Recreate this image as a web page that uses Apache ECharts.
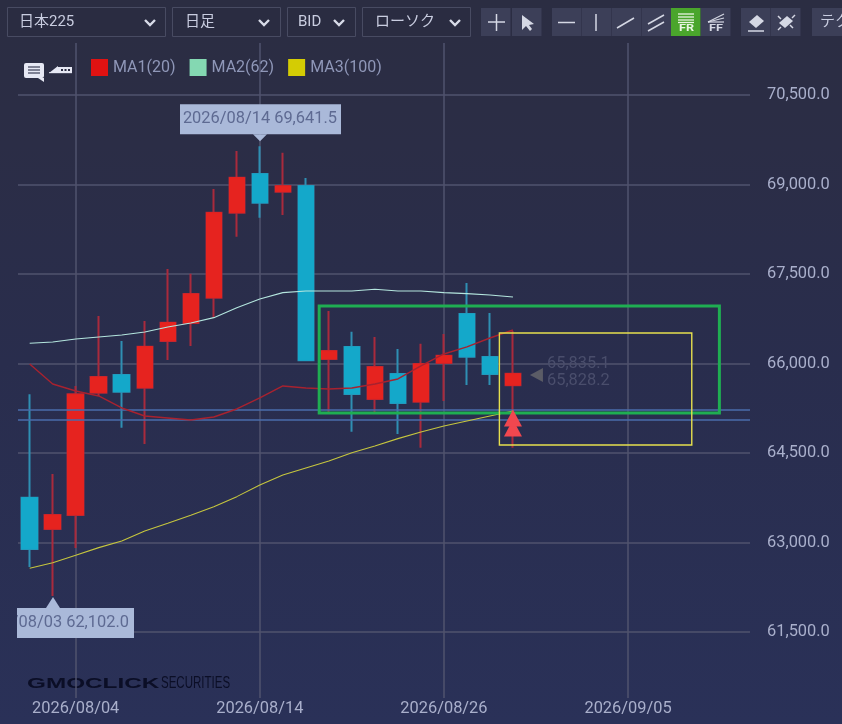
<!DOCTYPE html>
<html>
<head>
<meta charset="utf-8">
<script src="https://cdn.jsdelivr.net/npm/echarts@6/dist/echarts.min.js"></script>
<style>
html,body{margin:0;padding:0;width:842px;height:724px;overflow:hidden;
background:linear-gradient(180deg,#2b2d42 0%,#2b2d46 20%,#292d4d 50%,#2a3158 100%);}
#c{width:842px;height:724px;}
</style>
</head>
<body>
<div id="c"></div>
<script>
// ---- data ----
const dates = ['2026/07/31','2026/08/03','2026/08/04','2026/08/05','2026/08/06','2026/08/07','2026/08/10','2026/08/11','2026/08/12','2026/08/13','2026/08/14','2026/08/17','2026/08/18','2026/08/19','2026/08/20','2026/08/21','2026/08/24','2026/08/25','2026/08/26','2026/08/27','2026/08/28','2026/08/31','2026/09/01','2026/09/02','2026/09/03','2026/09/04','2026/09/05'];
const opens  = [63751,63226,63461,65511,65807,65594,66377,66679,67103,68527,69176,68879,68975,66075,66277,65405,65824,65360,66008,66830,66109,65635];
const closes = [62891,63461,65484,65774,65527,66282,66684,67165,68527,69114,68695,68975,66055,66210,65489,65941,65338,65992,66131,66114,65824,65828];
const lows   = [62589,62102,62908,65455,64924,64651,66059,66293,66768,68125,68444,68489,66055,65175,64857,65175,64818,64589,65372,65640,65640,64589];
const highs  = [65484,64148,65623,66796,66377,66712,67584,67505,68925,69562,69641.5,69533,69109,66880,66533,66444,66243,66332,66494,67349,66846,66545];
const ma1 = [65992,65656,65539,65455,65254,65120,65087,65053,65103,65237,65422,65623,65589,65573,65589,65656,65740,65958,66159,66277,66427,66561];
const ma2 = [66339,66360,66411,66444,66478,66528,66612,66679,66768,66935,67081,67187,67215,67215,67215,67244,67215,67215,67187,67170,67148,67115];
const ma3 = [62568,62661,62785,62913,63025,63193,63322,63456,63600,63768,63964,64131,64249,64366,64505,64617,64740,64852,64953,65036,65120,65204];
const priceTicks = [61500,63000,64500,66000,67500,69000,70500];
const dateTickIdx = [2,10,18,26];
const levelLines = [65220,65052];
const maNames = ['MA1(20)','MA2(62)','MA3(100)'];
const calloutHigh = {idx:10, price:69641.5, text:'2026/08/14 69,641.5'};
const calloutLow  = {idx:1,  price:62102,   text:'/08/03 62,102.0'};
const currentPrices = ['65,835.1','65,828.2'];
const currentAt = 65807;
const signalArrows = [64918,65087];
const zoneGreen  = [12.58,66963,29.97,65170];
const zoneYellow = [20.41,66510,28.77,64633];

const xMin=-0.508, xMax=31.3;
const yMin=60393, yMax=71371;

// ---- candle rows ----
const idx = opens.map((_,i)=>i);
const wickData = idx.map(i=>[i,opens[i],closes[i],lows[i],highs[i]]);
const bodyData = idx.map(i=>[i,opens[i],closes[i],Math.min(opens[i],closes[i]),Math.max(opens[i],closes[i])]);
const xy = a => a.map((v,i)=>[i,v]);

// ---- toolbar chrome ----
const FONT='"Roboto","Noto Sans CJK JP",sans-serif';
const g=[];
function box(x,y,w,h,fill,stroke){g.push({type:'rect',shape:{x,y,width:w,height:h},style:{fill:fill||'transparent',stroke:stroke||null,lineWidth:1}});}
function seg(pts,stroke,lw){g.push({type:'polyline',shape:{points:pts},style:{stroke,lineWidth:lw||1.5,fill:null}});}
function txt(t,x,y,fill,font,extra){g.push(Object.assign({type:'text',x,y,style:{text:t,fill,font:font||('15px '+FONT),textVerticalAlign:'middle'}},extra||{}));}
[[7.5,7.5,158,29,'日本225',19,150],[172.5,7.5,108,29,'日足',185,264],[287.5,7.5,68,29,'BID',298,339],[362.5,7.5,108,29,'ローソク',375,455]].forEach(s=>{
  box(s[0],s[1],s[2],s[3],'#2a2c41','#484b62');
  txt(s[4],s[5],22,'#c9cde0');
  seg([[s[6]-5,20],[s[6],25],[s[6]+5,20]],'#d8dbe8',2.4);
});
const BTN='#3c3f58', ICO='#d5d8e4';
[481,512,552,582,612,642,671,701,741,771,812].forEach((x,i)=>box(x,8,i===10?30:29.5,28,i===6?'#4aa52c':BTN));
seg([[488,22],[505,22]],ICO); seg([[496.5,14],[496.5,31]],ICO);
g.push({type:'polygon',shape:{points:[[522,15],[522,30],[526,26],[530,31],[532,29],[529,25],[534,24]]},style:{fill:ICO}});
seg([[558,22.5],[575,22.5]],ICO);
seg([[596,14],[596,31]],ICO);
seg([[617,28],[634,18]],ICO);
seg([[648,24],[664,15]],ICO); seg([[648,31],[664,22]],ICO);
[14,17,20,22.5].forEach(y=>seg([[678,y],[694,y]],'#e8f5e2',1.3));
txt('FR',679,29,'#e8f5e2','bold 9px '+FONT,{scaleX:1.4,scaleY:1});
seg([[708,22],[724,14]],ICO,1.2); seg([[708,22],[724,18]],ICO,1.2); seg([[708,22],[724,22]],ICO,1.2);
txt('FF',709,29,ICO,'bold 9px '+FONT,{scaleX:1.4,scaleY:1});
g.push({type:'polygon',shape:{points:[[749,22],[757,15],[764,21],[756,28]]},style:{fill:ICO}});
seg([[748,31],[764,31]],ICO);
g.push({type:'polygon',shape:{points:[[779,23],[787,16],[793,21],[785,28]]},style:{fill:ICO}});
seg([[778,16],[781,19]],ICO); seg([[793,28],[790,25]],ICO); seg([[778,30],[781,27]],ICO); seg([[795,15],[792,18]],ICO);
txt('テク',820,22,'#c9cde0');
// comment / marker icons by the legend
g.push({type:'rect',shape:{x:24,y:63,width:20,height:15,r:2},style:{fill:'#e6e8f4'}});
g.push({type:'polygon',shape:{points:[[38,78],[44,78],[44,82]]},style:{fill:'#e6e8f4'}});
[67,70,73].forEach(y=>seg([[28,y],[40,y]],'#3a3d55',1.2));
g.push({type:'polygon',shape:{points:[[49,73],[58,66],[58,73]]},style:{fill:'#e6e8f4'}});
box(58,67,14,6,'#e6e8f4');
seg([[49,72.7],[72,72.7]],'#e6e8f4',1);
[61,64.5,68].forEach(x=>box(x,69,2,2,'#2b2d42'));
// watermark
txt('GMOCLICK',27,684,'#0b0e26','bold 15px "Liberation Sans"',{scaleX:1.62,scaleY:1});
txt('SECURITIES',161,684,'#0b0e26','16px "Liberation Sans"',{scaleX:0.72,scaleY:1});

// ---- custom renderers, all anchored through api.coord ----
function renderZone(params,api){
  const a=api.coord([api.value(0),api.value(1)]), b=api.coord([api.value(2),api.value(3)]);
  const yellow=params.dataIndex===1;
  return {type:'rect',shape:{x:a[0],y:a[1],width:b[0]-a[0],height:b[1]-a[1]},
    style:{fill:'transparent',stroke:yellow?'#e6df4e':'#1fae52',lineWidth:yellow?1.4:3}};
}
function renderCallout(params,api){
  const p=api.coord([api.value(0),api.value(1)]);
  const up=params.dataIndex===0;
  const x=Math.round(p[0]);
  const tipY=up?p[1]-5:p[1]+1;
  const bx=up?x-80:x-36, bw=up?161:117, by=up?tipY-37:tipY+11, bh=30;
  const tri=up?[[x-7,tipY-7],[x+7,tipY-7],[x,tipY]]:[[x-7,tipY+11],[x+7,tipY+11],[x,tipY]];
  return {type:'group',children:[
    {type:'rect',shape:{x:bx,y:by,width:bw,height:bh},style:{fill:'#aab9d9'}},
    {type:'polygon',shape:{points:tri},style:{fill:'#aab9d9'}},
    {type:'text',clipPath:{type:'rect',shape:{x:bx,y:by,width:bw,height:bh}},
      style:{text:up?calloutHigh.text:calloutLow.text,x:bx+bw-(up?4:5),y:by+bh/2,fill:'#5e6a92',
      font:'16.4px Roboto',textAlign:'right',textVerticalAlign:'middle'}}
  ]};
}
function renderCurrent(params,api){
  const p=api.coord([api.value(0),api.value(1)]);
  return {type:'group',children:[
    {type:'polygon',shape:{points:[[p[0]+17,p[1]],[p[0]+30,p[1]-7],[p[0]+30,p[1]+7]]},style:{fill:'#5b5c66'}},
    {type:'text',style:{text:currentPrices[0],x:p[0]+34,y:p[1]-11,fill:'#4a4e6c',font:'16.4px Roboto',textVerticalAlign:'middle'}},
    {type:'text',style:{text:currentPrices[1],x:p[0]+34,y:p[1]+6,fill:'#4a4e6c',font:'16.4px Roboto',textVerticalAlign:'middle'}}
  ]};
}

const chart=echarts.init(document.getElementById('c'),null,{renderer:'canvas',width:842,height:724});
chart.setOption({
  animation:false,
  backgroundColor:'transparent',
  textStyle:{fontFamily:'Roboto'},
  graphic:{elements:g},
  legend:{left:91,top:59,padding:0,itemWidth:17,itemHeight:17,itemGap:14,
    icon:'rect',selectedMode:false,
    textStyle:{color:'#8f97b8',fontSize:16,fontFamily:'Roboto'},
    data:[
      {name:maNames[0],itemStyle:{color:'#e01212'}},
      {name:maNames[1],itemStyle:{color:'#84d8b2'}},
      {name:maNames[2],itemStyle:{color:'#d4cc04'}}
    ]},
  grid:{left:18,right:92,top:43,bottom:26},
  xAxis:{type:'value',min:xMin,max:xMax,
    axisLine:{show:false},
    axisTick:{show:false,customValues:dateTickIdx},
    splitLine:{show:true,lineStyle:{color:'#50536e',width:1.5}},
    axisLabel:{customValues:dateTickIdx,color:'#a9afcb',fontSize:16.4,fontFamily:'Roboto',margin:3,
      formatter:v=>dates[v]}},
  yAxis:{type:'value',min:yMin,max:yMax,position:'right',
    axisLine:{show:false},
    axisTick:{show:false,customValues:priceTicks},
    splitLine:{show:true,lineStyle:{color:'#50536e',width:1.5}},
    axisLabel:{customValues:priceTicks,color:'#a9afcb',fontSize:16.4,fontFamily:'Roboto',margin:17,
      formatter:v=>v.toLocaleString('en-US',{minimumFractionDigits:1,maximumFractionDigits:1})}},
  series:[
    {type:'line',name:'levels',data:[],silent:true,z:2,
      markLine:{silent:true,symbol:'none',animation:false,label:{show:false},
        lineStyle:{color:'#4a6cab',width:1.5,type:'solid'},
        data:levelLines.map(v=>({yAxis:v}))}},
    {type:'candlestick',name:'wick',data:wickData,barWidth:16,z:3,silent:true,
      encode:{x:0,y:[1,2,3,4]},
      itemStyle:{color:'transparent',color0:'transparent',borderColor:'#a92a3c',borderColor0:'#2f8fb3',borderWidth:2}},
    {type:'candlestick',name:'body',data:bodyData,barWidth:16,z:4,silent:true,
      encode:{x:0,y:[1,2,3,4]},
      itemStyle:{color:'#e6231f',color0:'#14a8ca',borderColor:'#e6231f',borderColor0:'#14a8ca',borderWidth:1}},
    {type:'line',name:maNames[0],data:xy(ma1),showSymbol:false,smooth:false,z:5,silent:true,lineStyle:{color:'#a8222f',width:1.4},itemStyle:{color:'#a8222f'}},
    {type:'line',name:maNames[1],data:xy(ma2),showSymbol:false,z:5,silent:true,lineStyle:{color:'#b4e6de',width:1.1},itemStyle:{color:'#b4e6de'}},
    {type:'line',name:maNames[2],data:xy(ma3),showSymbol:false,z:5,silent:true,lineStyle:{color:'#c6c63e',width:1.1},itemStyle:{color:'#c6c63e'}},
    {type:'custom',name:'zones',data:[zoneGreen,zoneYellow],renderItem:renderZone,clip:false,z:6,silent:true,encode:{x:[0,2],y:[1,3]}},
    {type:'scatter',name:'signals',data:signalArrows.map(v=>[21,v]),symbol:'triangle',symbolSize:[18,17],z:7,silent:true,itemStyle:{color:'#f1474f',opacity:1}},
    {type:'custom',name:'current',data:[[21,currentAt]],renderItem:renderCurrent,clip:false,z:7,silent:true,encode:{x:0,y:1}},
    {type:'custom',name:'callouts',data:[[calloutHigh.idx,calloutHigh.price],[calloutLow.idx,calloutLow.price]],renderItem:renderCallout,clip:false,z:8,silent:true,encode:{x:0,y:1}}
  ]
});
</script>
</body>
</html>
